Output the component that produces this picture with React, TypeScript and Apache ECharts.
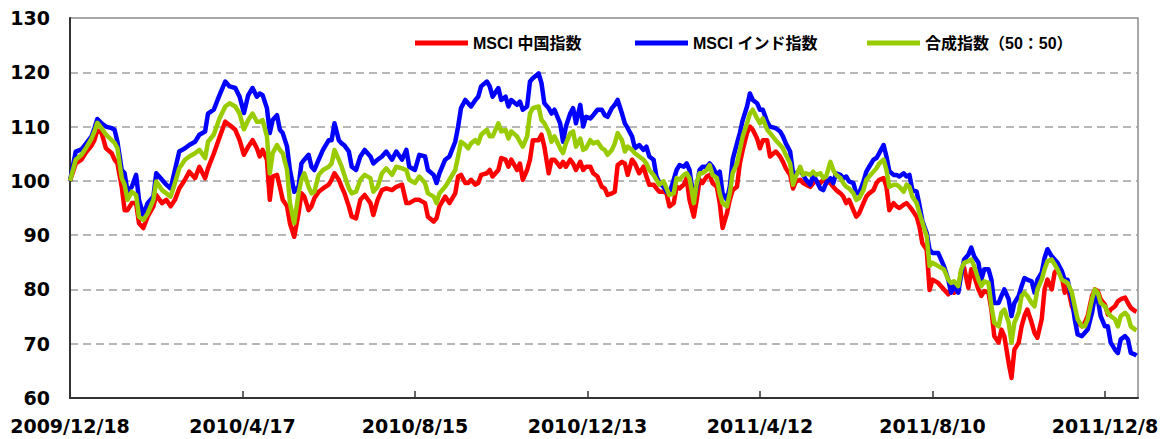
import React, { useEffect, useRef } from 'react';
import * as echarts from 'echarts';

// X-axis tick labels (every 120 days from 2009/12/18)
const xTickLabels = ['2009/12/18', '2010/4/17', '2010/8/15', '2010/12/13', '2011/4/12', '2011/8/10', '2011/12/8'];

// Day offsets from 2009/12/18
const dayOffsets = [
  0, 4, 8, 11, 15, 17, 19, 22, 25, 29, 31, 33, 36, 38, 40, 43, 46, 48, 51, 54, 58, 60, 64, 67, 70, 73, 76, 80, 83, 87, 90, 94, 96, 100, 104, 108, 111, 115, 118, 121,
  124, 127, 130, 132, 134, 137, 139, 141, 144, 146, 148, 151, 153, 156, 159, 161, 163, 166, 168, 170, 173, 176, 180, 182, 184, 187, 189, 191, 194, 196, 199, 202, 205, 209, 211, 214, 217, 220, 224, 227, 231, 234, 236, 240,
  243, 247, 249, 253, 255, 257, 261, 264, 268, 270, 272, 275, 277, 279, 282, 284, 286, 290, 292, 294, 298, 300, 303, 305, 307, 311, 313, 315, 318, 320, 322, 326, 328, 330, 333, 335, 337, 341, 343, 345, 348, 350, 352, 355, 357, 359, 362, 364,
  367, 370, 372, 374, 377, 379, 381, 384, 386, 388, 391, 393, 396, 399, 401, 403, 406, 408, 410, 413, 415, 417, 420, 422, 424, 427, 429, 431, 434, 436, 438, 440, 443, 445, 447, 450, 452, 454, 457, 459, 461, 464, 466, 468, 471, 473, 475, 478, 480, 482, 485, 487,
  491, 494, 496, 498, 501, 503, 505, 508, 510, 512, 515, 517, 519, 522, 524, 526, 529, 531, 533, 536, 538, 540, 542, 545, 547, 549, 552, 554, 556, 559, 561, 563, 566, 568, 570, 573, 575, 577, 580, 582, 584, 586, 589,
  591, 593, 596, 598, 600, 604,
  608, 611, 613, 615, 618, 620, 622, 625, 627, 629, 632, 634, 636, 639, 641, 643, 646, 648, 650, 653, 655, 657, 660, 662, 664, 666, 669, 671, 673, 676, 678, 680, 683, 685, 687, 690, 692, 694, 697, 699, 701, 704, 706, 708, 711, 713, 715, 717, 720, 722, 724, 727, 729, 731, 734, 736, 738, 741, 742,
];

const msciChina = [
  100, 103.2, 103.9, 105.2, 106.5, 107.5, 109.3, 108.8, 106.0, 105.1, 103.9, 103.2, 98.9, 94.6, 94.6, 95.9, 95.9, 92.2, 91.3, 93.4, 95.3, 97.4, 95.9, 96.5, 95.3, 96.5, 98.6, 100.2, 101.7, 100.5, 102.6, 100.5, 102.3, 105.0, 108.0, 110.9, 110.3, 109.4, 107.5, 104.8,
  106.3, 107.5, 106.0, 104.5, 105.7, 103.9, 96.5, 100.8, 101.1, 98.9, 96.5, 95.3, 92.2, 89.7, 94.0, 97.7, 97.1, 94.6, 95.3, 96.8, 98.0, 98.6, 99.3, 100.2, 101.4, 100.2, 98.9, 97.7, 95.3, 93.4, 93.1, 96.5, 97.4, 95.9, 93.7, 96.5, 98.3, 98.6, 98.3, 98.9, 99.3, 95.9, 95.9, 96.5,
  96.5, 95.9, 93.4, 92.5, 93.1, 95.3, 97.1, 95.9, 97.7, 100.8, 101.1, 99.6, 99.6, 100.2, 99.3, 99.6, 101.1, 101.4, 102.0, 100.8, 102.0, 104.2, 103.9, 102.6, 103.9, 102.0, 103.2, 100.2, 102.0, 103.9, 107.5, 107.5, 108.5, 106.3, 101.4, 103.9, 103.9, 102.6, 103.5, 102.6, 103.9, 103.2, 102.0, 103.5, 102.0, 102.6, 102.6, 101.4,
  100.8, 98.9, 98.6, 97.4, 97.7, 98.0, 102.9, 103.5, 103.2, 101.1, 103.9, 103.2, 101.4, 102.6, 100.8, 99.3, 99.3, 98.6, 98.0, 98.0, 97.7, 95.3, 95.9, 98.9, 98.6, 99.3, 100.5, 96.5, 93.4, 96.5, 100.2, 99.6, 100.8, 101.1, 99.6, 98.9, 95.9, 91.3, 94.0, 96.5, 98.3, 98.9, 103.2, 105.7, 108.8, 110.0, 109.4, 107.8, 106.0, 107.5, 107.5, 104.5,
  105.4, 104.5, 103.5, 102.3, 101.1, 98.6, 99.9, 100.2, 99.6, 99.3, 98.9, 99.6, 99.9, 99.6, 100.2, 99.9, 99.6, 98.9, 98.3, 97.7, 97.1, 95.9, 96.5, 94.6, 93.4, 94.0, 95.9, 97.1, 97.7, 98.3, 99.6, 100.2, 100.5, 98.9, 94.6, 95.9, 95.3, 95.0, 95.6, 95.9, 95.3, 94.6, 93.4,
  91.5, 88.5, 87.3, 79.9, 81.8, 81.2,
  80.0, 79.1, 80.0, 79.4, 80.0, 83.4, 84.0, 80.3, 83.7, 82.4, 80.0, 78.8, 79.7, 79.4, 76.3, 71.4, 70.2, 72.6, 71.4, 66.5, 63.7, 68.9, 70.2, 73.2, 75.1, 76.3, 73.9, 72.0, 71.1, 74.5, 80.0, 81.8, 80.0, 83.1, 83.7, 82.4, 79.4, 80.6, 76.9, 75.7, 73.9, 73.2, 73.9, 75.1, 78.8, 80.0, 79.7, 78.2, 77.2, 75.4, 76.3, 76.9, 77.8, 78.2, 78.5, 77.5, 76.6, 76.0, 75.9,
];

const msciIndia = [
  100, 105.4, 105.8, 106.8, 108.2, 109.7, 111.4, 110.6, 110.0, 109.7, 109.4, 107.2, 102.0, 101.4, 98.0, 98.9, 101.1, 96.5, 93.7, 95.9, 97.1, 101.4, 100.2, 99.3, 98.6, 102.0, 105.4, 106.0, 106.6, 107.2, 108.5, 109.1, 112.4, 113.1, 115.8, 118.3, 117.4, 117.1, 115.5, 112.5,
  115.8, 117.1, 115.5, 116.1, 115.8, 113.4, 108.8, 111.2, 112.1, 109.4, 108.8, 106.3, 102.0, 98.0, 98.9, 103.2, 103.9, 104.8, 102.6, 102.0, 103.9, 105.7, 107.5, 107.5, 110.6, 107.5, 106.9, 106.5, 105.4, 102.6, 102.0, 104.5, 105.7, 104.5, 103.2, 103.9, 104.5, 105.4, 103.9, 105.4, 103.9, 105.7, 102.6, 102.0,
  104.8, 104.5, 102.0, 101.1, 99.6, 101.4, 103.9, 104.5, 107.2, 110.0, 113.4, 114.9, 114.3, 113.7, 114.9, 115.5, 117.4, 118.3, 117.4, 115.5, 117.1, 114.9, 115.5, 113.7, 114.9, 114.0, 114.6, 113.1, 113.7, 118.3, 118.9, 119.8, 118.0, 114.3, 113.4, 112.4, 113.1, 110.6, 107.2, 110.0, 112.4, 113.4, 110.6, 114.0, 110.0, 111.8, 111.5, 112.1,
  113.1, 113.1, 112.1, 111.8, 113.4, 114.0, 114.9, 112.4, 110.6, 109.7, 108.2, 106.0, 106.6, 105.7, 106.3, 104.5, 103.9, 100.8, 99.6, 98.9, 98.0, 97.7, 100.2, 102.0, 102.9, 102.6, 103.2, 102.0, 96.5, 98.9, 102.0, 102.6, 102.6, 103.2, 102.6, 101.1, 101.7, 97.7, 96.5, 98.9, 103.9, 106.9, 108.8, 111.2, 113.7, 116.1, 114.9, 114.3, 113.1, 113.1, 110.9, 110.0,
  109.7, 109.1, 108.2, 106.9, 105.4, 101.4, 101.4, 102.0, 101.1, 100.2, 99.3, 101.1, 100.2, 98.6, 98.3, 99.6, 100.5, 99.6, 101.4, 101.1, 100.5, 100.8, 99.9, 99.6, 97.7, 97.7, 99.9, 101.7, 102.6, 103.9, 104.2, 105.1, 106.6, 104.5, 101.8, 101.1, 101.1, 100.8, 101.4, 100.8, 101.1, 98.3, 98.0,
  95.5, 92.6, 90.4, 87.3, 86.7, 86.7,
  84.3, 81.8, 79.4, 80.6, 79.4, 82.8, 85.5, 86.4, 87.7, 86.1, 84.9, 81.8, 83.7, 83.7, 81.8, 77.5, 77.5, 78.8, 80.0, 78.2, 75.1, 77.5, 78.8, 80.6, 82.1, 81.8, 81.5, 79.4, 81.8, 83.1, 85.8, 87.4, 86.1, 85.5, 84.9, 83.4, 81.8, 81.8, 78.2, 74.5, 71.7, 71.4, 72.0, 72.6, 75.7, 78.8, 78.2, 75.1, 73.2, 73.2, 70.2, 68.9, 68.3, 70.8, 71.4, 70.8, 68.3, 68.0, 67.8,
];

const composite = [
  100, 103.9, 104.8, 106.0, 107.8, 109.1, 110.7, 109.7, 108.5, 107.5, 107.0, 106.0, 100.5, 99.3, 96.5, 98.0, 97.4, 93.4, 92.8, 94.0, 96.5, 99.9, 98.3, 97.7, 97.1, 99.6, 102.3, 103.9, 104.5, 105.1, 105.7, 104.2, 107.2, 108.5, 111.5, 113.7, 114.3, 113.7, 112.4, 109.5,
  111.2, 112.4, 110.9, 110.9, 111.2, 108.2, 101.4, 105.1, 106.6, 105.7, 105.1, 102.0, 95.9, 92.2, 97.7, 100.2, 101.4, 98.9, 97.7, 98.0, 101.1, 102.0, 102.6, 103.2, 105.7, 103.9, 102.6, 101.0, 98.6, 97.7, 98.0, 100.2, 101.1, 100.5, 98.0, 98.9, 101.4, 102.3, 101.1, 102.6, 102.3, 102.0, 100.2, 99.6,
  100.8, 99.6, 97.7, 97.1, 95.9, 97.7, 98.9, 100.2, 102.0, 104.5, 107.2, 106.6, 106.0, 106.9, 107.5, 106.9, 108.5, 109.4, 108.2, 108.2, 110.6, 109.1, 109.4, 107.8, 109.1, 108.2, 107.2, 106.3, 108.2, 112.4, 113.4, 113.7, 111.2, 110.6, 109.1, 107.2, 108.2, 106.0, 105.1, 106.9, 108.8, 109.1, 106.3, 107.8, 105.7, 106.0, 107.5, 106.9,
  107.2, 106.0, 105.7, 104.8, 105.7, 106.9, 108.8, 107.5, 105.4, 106.3, 105.7, 105.1, 104.5, 103.9, 103.2, 102.0, 101.1, 100.2, 99.3, 99.9, 98.6, 97.4, 97.7, 100.5, 100.2, 101.1, 101.4, 100.5, 95.9, 99.6, 101.4, 101.4, 102.0, 102.9, 101.1, 100.5, 97.7, 95.9, 95.3, 97.7, 101.4, 103.2, 105.7, 108.2, 110.6, 112.4, 113.1, 111.5, 110.6, 111.5, 109.4, 108.8,
  107.5, 106.6, 106.0, 104.8, 103.2, 99.3, 100.8, 102.6, 101.1, 101.4, 101.1, 101.7, 101.1, 101.4, 100.5, 100.8, 103.5, 102.0, 101.1, 100.5, 99.6, 98.9, 98.6, 97.7, 96.5, 96.8, 98.3, 100.2, 100.8, 101.7, 102.3, 103.2, 103.9, 102.0, 98.9, 99.3, 99.3, 98.9, 98.0, 99.3, 98.9, 97.1, 95.9,
  94.0, 92.3, 89.8, 84.3, 84.9, 84.3,
  83.7, 81.8, 81.2, 81.5, 80.6, 83.7, 84.9, 85.2, 85.5, 84.3, 81.8, 80.6, 81.5, 81.2, 76.9, 73.9, 73.2, 75.7, 76.3, 73.9, 70.2, 73.9, 75.7, 78.8, 79.4, 78.8, 77.5, 76.9, 80.0, 81.8, 83.7, 85.2, 85.5, 84.6, 83.7, 81.8, 81.5, 81.2, 79.4, 76.9, 74.5, 73.2, 73.2, 74.5, 78.2, 80.0, 79.4, 77.5, 76.9, 75.7, 75.1, 74.5, 73.2, 75.1, 75.7, 75.1, 73.2, 72.6, 72.5,
];

const seriesNames = ['MSCI 中国指数', 'MSCI インド指数', '合成指数（50：50）'];
const seriesColors = ['#ff0000', '#0000ff', '#99cc00'];
const legendLefts = [415, 635, 867];

export default function App() {
  const ref = useRef<HTMLDivElement>(null);
  useEffect(() => {
    const chart = echarts.init(ref.current as HTMLDivElement, null, { renderer: 'svg' });
    const axisFont = '"DejaVu Sans", "Liberation Sans", sans-serif';
    const legendFont = '"Liberation Sans", "Noto Sans CJK JP", sans-serif';
    const pairs = (vals: number[]) => dayOffsets.map((d, i) => [d, vals[i]]);
    const valueSets = [msciChina, msciIndia, composite];
    chart.setOption({
      animation: false,
      backgroundColor: '#ffffff',
      grid: { left: 70, right: 24, top: 18, bottom: 41, show: true, borderColor: '#8c8c8c', borderWidth: 1.5, backgroundColor: 'transparent' },
      legend: seriesNames.map((name, i) => ({
        data: [name],
        left: legendLefts[i],
        top: 35,
        padding: 0,
        icon: 'rect',
        itemWidth: 53,
        itemHeight: 5,
        selectedMode: false,
        textStyle: { fontSize: 16, fontWeight: 'bold', color: '#000', fontFamily: legendFont },
      })),
      xAxis: {
        type: 'value',
        min: 0,
        max: 743,
        interval: 120,
        axisLine: { show: true, lineStyle: { color: '#333', width: 2 } },
        axisTick: { show: true, inside: true, length: 7, lineStyle: { color: '#333', width: 1.5 } },
        axisLabel: {
          margin: 18,
          fontSize: 19,
          fontWeight: 'bold',
          color: '#000',
          fontFamily: axisFont,
          showMaxLabel: false,
          formatter: (v: number) => {
            const idx = v / 120;
            return Number.isInteger(idx) && xTickLabels[idx] ? xTickLabels[idx] : '';
          },
        },
        splitLine: { show: false },
      },
      yAxis: {
        type: 'value',
        min: 60,
        max: 130,
        interval: 10,
        axisLine: { show: true, lineStyle: { color: '#333', width: 2 } },
        axisTick: { show: false },
        axisLabel: { margin: 20, fontSize: 19, fontWeight: 'bold', color: '#000', fontFamily: axisFont },
        splitLine: { show: true, showMinLine: false, showMaxLine: false, lineStyle: { color: '#a0a0a0', width: 1.5, type: [8, 5] } },
      },
      series: seriesNames.map((name, i) => ({
        name,
        type: 'line',
        data: pairs(valueSets[i]),
        showSymbol: false,
        symbol: 'none',
        lineStyle: { width: 4.5, color: seriesColors[i], join: 'round' },
        itemStyle: { color: seriesColors[i] },
        z: 2 + i,
      })),
    });
    return () => chart.dispose();
  }, []);
  return <div ref={ref} style={{ position: 'fixed', left: 0, top: 0, width: 1162, height: 439 }} />;
}
